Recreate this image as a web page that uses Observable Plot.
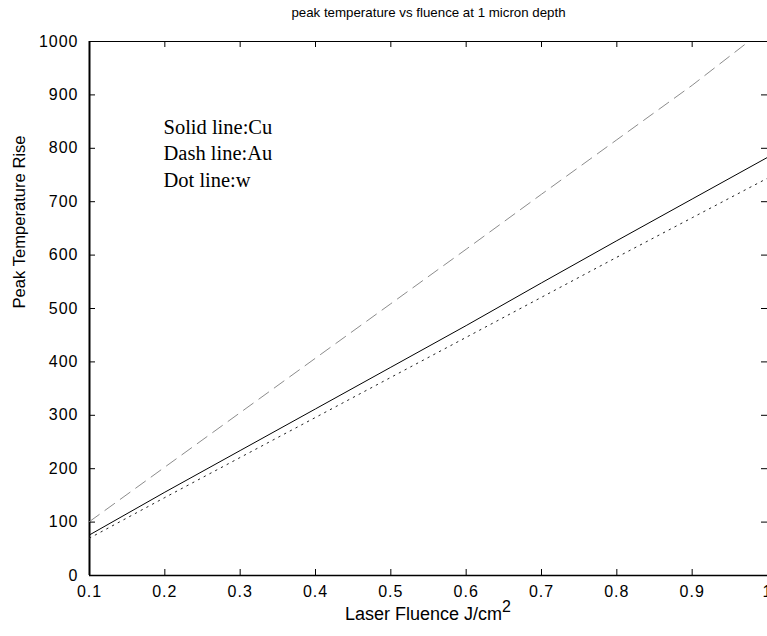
<!DOCTYPE html>
<html>
<head>
<meta charset="utf-8">
<script src="https://cdn.jsdelivr.net/npm/d3@7"></script>
<script src="https://cdn.jsdelivr.net/npm/@observablehq/plot@0.6"></script>
<style>
  html, body { margin: 0; padding: 0; background: #fff; }
  #chart svg { display: block; }
</style>
</head>
<body>
<div id="chart"></div>
<script>
// Laser fluence (J/cm^2)
const fluence = [0.1, 0.2, 0.3, 0.4, 0.5, 0.6, 0.7, 0.8, 0.9, 1.0];
// Peak temperature rise — Cu (solid)
const cuRise = [76, 156, 234, 312, 390, 468, 548, 627, 705, 783];
// Au (dashed) — leaves the plot just before 1.0
const auFluence = [0.1, 0.2, 0.3, 0.4, 0.5, 0.6, 0.7, 0.8, 0.9, 0.975];
const auRise = [101, 203, 305, 407, 509, 611, 714, 816, 918, 1000];
// W (dotted)
const wRise = [70, 146, 221, 296, 371, 446, 521, 596, 670, 744];

const xTicks = [0.1, 0.2, 0.3, 0.4, 0.5, 0.6, 0.7, 0.8, 0.9, 1];
const yTicks = [0, 100, 200, 300, 400, 500, 600, 700, 800, 900, 1000];
const legendLines = ["Solid line:Cu", "Dash line:Au", "Dot line:w"];
const legendY = [840, 790, 739];

const cu = fluence.map((f, i) => ({f, t: cuRise[i]}));
const au = auFluence.map((f, i) => ({f, t: auRise[i]}));
const w = fluence.map((f, i) => ({f, t: wRise[i]}));

const W = 767, H = 636;
const mL = 89, mR = 0, mT = 41, mB = 61;
const pw = W - mL - mR, ph = H - mT - mB;
const tl = 6;
const sans = "'Liberation Sans', Arial, Helvetica, sans-serif";

const chart = Plot.plot({
  width: W,
  height: H,
  marginLeft: mL,
  marginRight: mR,
  marginTop: mT,
  marginBottom: mB,
  style: {fontFamily: sans, fontSize: "16px", color: "#000", background: "#fff", overflow: "visible"},
  x: {domain: [0.1, 1], ticks: xTicks},
  y: {domain: [0, 1000], ticks: yTicks},
  marks: [
    Plot.frame({stroke: "#000", strokeWidth: 1}),
    // inward ticks on all four sides
    Plot.tickY(yTicks, {y: d => d, stroke: "#000", insetRight: pw - tl}),
    Plot.tickY(yTicks, {y: d => d, stroke: "#000", insetLeft: pw - tl}),
    Plot.tickX(xTicks, {x: d => d, stroke: "#000", insetTop: ph - tl}),
    Plot.tickX(xTicks, {x: d => d, stroke: "#000", insetBottom: ph - tl}),
    Plot.axisX({ticks: xTicks, tickSize: 0, tickPadding: 10, fontSize: 16, label: null, tickFormat: d => String(d)}),
    Plot.axisY({ticks: yTicks, tickSize: 0, tickPadding: 11, fontSize: 16, label: null, tickFormat: d => String(d)}),
    Plot.ruleX([0.1], {stroke: "#000", strokeWidth: 2}),
    Plot.ruleY([0], {stroke: "#000", strokeWidth: 1.5}),
    Plot.line(au, {x: "f", y: "t", stroke: "#8c8c8c", strokeWidth: 1, strokeDasharray: "12,7"}),
    Plot.line(w, {x: "f", y: "t", stroke: "#222", strokeWidth: 1, strokeDasharray: "1.5,5"}),
    Plot.line(cu, {x: "f", y: "t", stroke: "#000", strokeWidth: 1}),
    Plot.text(legendLines, {
      x: 0.1, y: (d, i) => legendY[i], text: d => d,
      textAnchor: "start", lineAnchor: "middle", fontFamily: "'Liberation Serif', 'Times New Roman', serif",
      fontSize: 20.5, fill: "#000", dx: 74
    }),
    Plot.text(["peak temperature vs fluence at 1 micron depth"], {
      frameAnchor: "top", text: d => d, dy: -34, fontSize: 13.3, fill: "#000"
    }),
    Plot.text(["Peak Temperature Rise"], {
      frameAnchor: "left", text: d => d, dx: -70, rotate: -90, fontSize: 16.6, fill: "#000"
    })
  ]
});

// tick labels are slightly wide in the original
d3.select(chart).selectAll("g[aria-label='x-axis tick label'] text, g[aria-label='y-axis tick label'] text")
  .attr("letter-spacing", "1px");

// x-axis label with superscript
const svg = d3.select(chart);
const t = svg.append("text")
  .attr("x", mL + pw / 2)
  .attr("y", 620)
  .attr("text-anchor", "middle")
  .attr("font-family", sans)
  .attr("font-size", 18)
  .attr("fill", "#000");
t.append("tspan").text("Laser Fluence J/cm");
t.append("tspan").attr("dy", -8).attr("font-size", 16).text("2");

document.getElementById("chart").appendChild(chart);
</script>
</body>
</html>
